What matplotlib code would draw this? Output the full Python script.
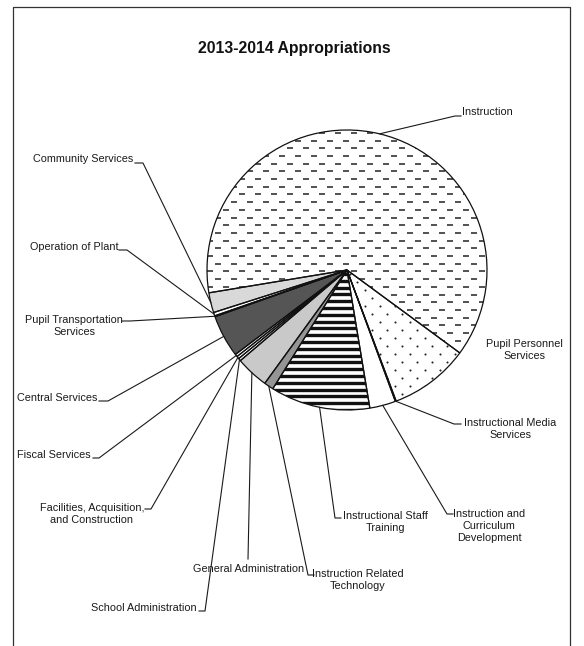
import matplotlib.pyplot as plt
import numpy as np
from matplotlib.collections import LineCollection

plt.rcParams['font.family'] = ['Liberation Sans', 'DejaVu Sans']

# slices in clockwise order, starting with Instruction (percent of total)
categories = ["Instruction", "Pupil Personnel Services", "Instructional Media Services",
              "Instruction and Curriculum Development", "Instructional Staff Training",
              "Instruction Related Technology", "General Administration",
              "School Administration", "Facilities, Acquisition, and Construction",
              "Fiscal Services", "Central Services", "Pupil Transportation Services",
              "Operation of Plant", "Community Services"]
shares = [62.7, 9.2, 0.1, 3.0, 11.5, 1.1, 3.8, 0.3, 0.3, 0.3, 4.9, 0.1, 0.4, 2.3]
label_text = ["Instruction", "Pupil Personnel\nServices", "Instructional Media\nServices",
              "Instruction and\nCurriculum\nDevelopment", "Instructional Staff\nTraining",
              "Instruction Related\nTechnology", "General Administration",
              "School Administration", "Facilities, Acquisition,\nand Construction",
              "Fiscal Services", "Central Services", "Pupil Transportation\nServices",
              "Operation of Plant", "Community Services"]

fills = ['white', 'white', 'white', 'white', 'white', '#959595', '#c9c9c9',
         'white', 'white', 'white', '#555555', 'white', 'white', '#d9d9d9']

W, H = 584, 646
fig = plt.figure(figsize=(W / 100, H / 100), dpi=100)
ax = fig.add_axes([0, 0, 1, 1])

cx, cy, R = 347, H - 270, 140

wedges, _ = ax.pie(shares, colors=fills, startangle=189.4, counterclock=False,
                   center=(cx, cy), radius=R,
                   wedgeprops=dict(edgecolor='none', linewidth=0))

def fy(y):
    return H - y

# texture: short dashes for Instruction / Operation of Plant
segs = []
for i, yy in enumerate(np.arange(cy - R, cy + R + 8, 7.7)):
    off = 0 if i % 2 == 0 else 8
    for xx in np.arange(cx - R - 16 + off, cx + R + 16, 16):
        segs.append([(xx, yy), (xx + 6, yy)])
for k in (0, 12):
    lc = LineCollection(segs, colors='#222222', linewidths=1.1, zorder=2)
    ax.add_collection(lc)
    lc.set_clip_path(wedges[k])

# dots for Pupil Personnel Services
pts = []
for i, yy in enumerate(np.arange(cy - R, cy + R, 8)):
    off = 0 if i % 2 == 0 else 7.5
    for xx in np.arange(cx - R + off, cx + R, 15):
        pts.append((xx, yy))
pts = np.array(pts)
sc = ax.scatter(pts[:, 0], pts[:, 1], s=2.2, c='#222222', linewidths=0, zorder=2)
sc.set_clip_path(wedges[1])

# stripes for Instructional Staff Training
stripes = [[(cx - R, yy), (cx + R, yy)] for yy in np.arange(cy - R, cy, 6.8)]
lc = LineCollection(stripes, colors='#111111', linewidths=2.4, zorder=2)
ax.add_collection(lc)
lc.set_clip_path(wedges[4])

# outlines on top
ax.pie(shares, startangle=189.4, counterclock=False, center=(cx, cy), radius=R,
       wedgeprops=dict(fill=False, edgecolor='#111111', linewidth=0.9, zorder=3))

# label layout in pixel coords: text pos, ha, leader hook (x_out, x_in, y) or None
layout = [
    ((462, 112), 'left', (455, 461, 116)),
    ((524, 350), 'center', None),
    ((510, 429), 'center', (454, 461, 424)),
    ((489, 526), 'center', (447, 453, 514)),
    ((385, 522), 'center', (335, 341, 518)),
    ((358, 580), 'center', (308, 314, 575)),
    ((249, 569), 'center', (248, 248, 559)),
    ((197, 608), 'right', (205, 199, 611)),
    ((92, 514), 'center', (151, 145, 509)),
    ((17, 455), 'left', (99, 93, 458)),
    ((17, 398), 'left', (108, 99, 401)),
    ((74, 326), 'center', (130, 122, 321)),
    ((30, 247), 'left', (127, 119, 250)),
    ((33, 159), 'left', (143, 135, 163)),
]

for w, txt, (pos, ha, hook) in zip(wedges, label_text, layout):
    ax.text(pos[0], fy(pos[1]), txt, ha=ha, va='center', multialignment='center',
            fontsize=7.8, color='#1a1a1a', linespacing=1.3)
    if hook is None:
        continue
    mid = np.deg2rad((w.theta1 + w.theta2) / 2)
    px, py = cx + R * np.cos(mid), cy + R * np.sin(mid)
    ax.plot([px, hook[0], hook[1]], [py, fy(hook[2]), fy(hook[2])],
            color='#1a1a1a', lw=0.8, zorder=4)

ax.text(294, fy(48), "2013-2014 Appropriations", ha='center', va='center',
        fontsize=11.3, fontweight='bold', color='#111111')

# page frame
ax.plot([13, 13, 570, 570], [0, fy(7), fy(7), 0], color='#333333', lw=0.9)

ax.set_xlim(0, W)
ax.set_ylim(0, H)
ax.set_aspect('auto')
ax.axis('off')

fig.savefig('out.png', dpi=100)
